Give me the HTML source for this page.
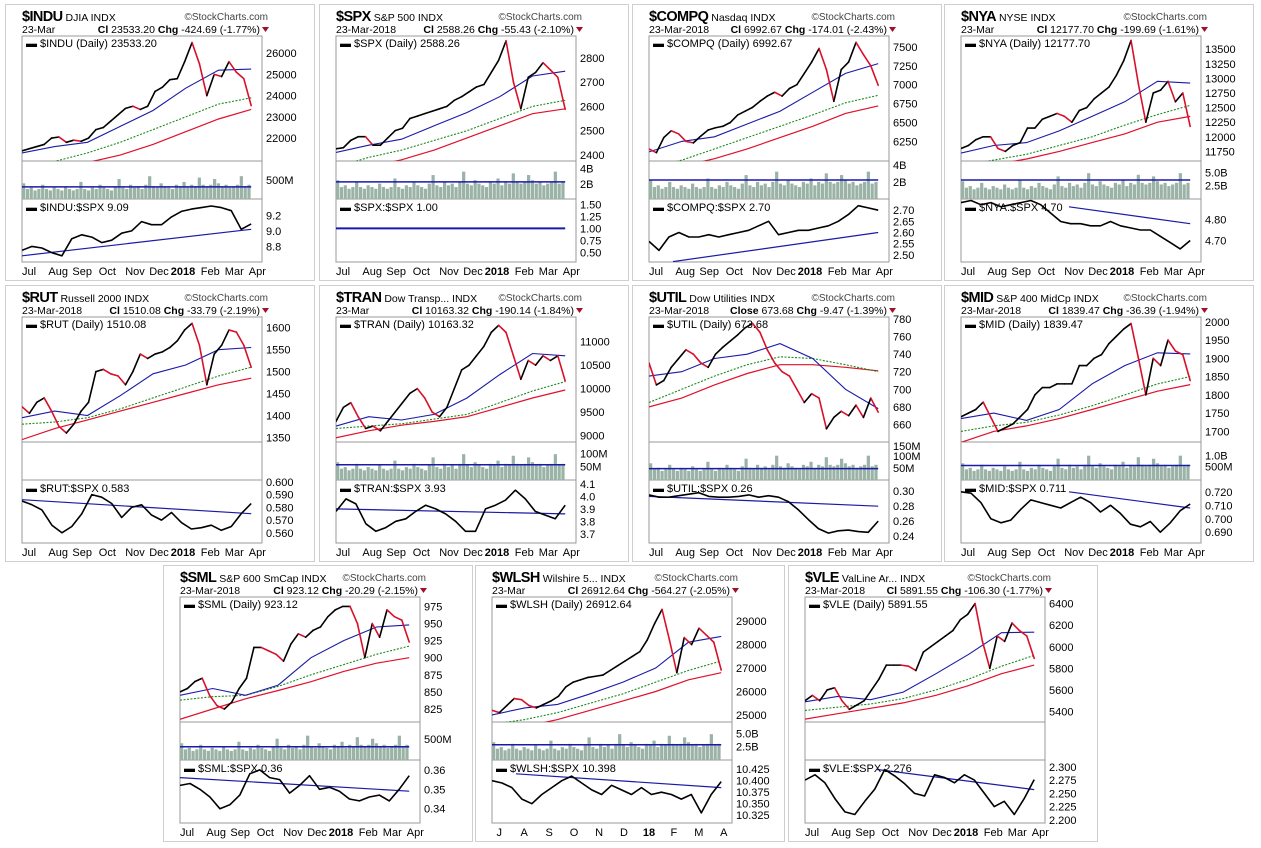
<!DOCTYPE html>
<html><head><meta charset="utf-8"><title>Index Chart Grid</title>
<style>
html,body{margin:0;padding:0;background:#fff;}
svg{display:block;font-family:"Liberation Sans",sans-serif;}
</style></head>
<body>
<svg id="root" width="1261" height="848" viewBox="0 0 1261 848"></svg>
<script>
// ---------- data ----------
const monthLabels = ["Jul","Aug","Sep","Oct","Nov","Dec","2018","Feb","Mar","Apr"];
const monthLabelsShort = ["J","A","S","O","N","D","18","F","M","A"];
const volumeShape = [0.55,0.35,0.4,0.3,0.35,0.5,0.35,0.3,0.4,0.35,0.3,0.45,0.35,0.3,0.35,0.6,0.35,0.3,0.4,0.35,0.5,0.4,0.35,0.3,0.45,0.7,0.4,0.35,0.5,0.4,0.45,0.35,0.5,0.8,0.45,0.4,0.55,0.45,0.4,0.35,0.5,0.45,0.6,0.4,0.5,0.45,0.75,0.5,0.45,0.5,0.7,0.55,0.45,0.5,0.4,0.45,0.5,0.8,0.45,0.5];

const induPrice=[21400,21500,21600,21700,22000,22050,21800,21900,21850,22000,22400,22500,22800,23100,23400,23500,23350,23500,24200,24400,24750,24800,25600,26500,25500,24000,25000,24900,25600,25100,24800,23530];
const induMa50=[21300,21600,21800,22550,23300,24350,25200,25250];
const induMa150=[20700,20900,21300,21800,22400,23000,23600,23900];
const induMa200=[20300,20550,20850,21200,21700,22300,22900,23350];
const induRatio=[8.75,8.8,8.78,8.72,8.68,8.9,8.95,8.92,8.85,8.88,8.97,9.0,9.12,9.08,9.08,9.18,9.25,9.28,9.3,9.32,9.3,9.26,9.02,9.09];
const induRatioMa=[8.68,9.02];
const induTicks=[22000,23000,24000,25000,26000];
const induRatioTicks=[8.8,9.0,9.2];

const spxPrice=[2425,2430,2460,2475,2475,2440,2440,2470,2500,2510,2550,2560,2570,2580,2590,2600,2625,2640,2660,2680,2690,2740,2790,2870,2700,2590,2720,2740,2780,2750,2720,2588];
const spxMa50=[2410,2440,2465,2520,2575,2640,2725,2745];
const spxMa150=[2350,2390,2420,2460,2500,2550,2600,2625];
const spxMa200=[2330,2350,2380,2420,2470,2520,2570,2590];
const spxRatio=[1,1,1,1,1,1,1,1,1,1,1,1,1,1,1,1,1,1,1,1,1,1,1,1];
const spxRatioMa=[1,1];
const spxTicks=[2400,2500,2600,2700,2800];
const spxRatioTicks=[0.5,0.75,1.0,1.25,1.5];

const compqPrice=[6150,6100,6300,6390,6350,6250,6230,6320,6400,6430,6450,6500,6600,6650,6700,6780,6850,6900,6850,6950,7000,7150,7300,7480,7200,6780,7200,7300,7560,7400,7250,6993];
const compqMa50=[6110,6250,6310,6480,6650,6900,7150,7280];
const compqMa150=[5900,6000,6150,6300,6450,6600,6760,6860];
const compqMa200=[5850,5920,6020,6150,6300,6450,6620,6720];
const compqRatio=[2.56,2.52,2.58,2.6,2.58,2.58,2.59,2.58,2.59,2.6,2.61,2.63,2.65,2.59,2.6,2.61,2.61,2.62,2.63,2.65,2.68,2.72,2.71,2.7];
const compqRatioMa=[2.47,2.6];
const compqTicks=[6250,6500,6750,7000,7250,7500];
const compqRatioTicks=[2.5,2.55,2.6,2.65,2.7];

const nyaPrice=[11800,11850,11950,12000,12000,11800,11750,11850,11900,12150,12150,12300,12350,12400,12350,12250,12450,12500,12650,12750,12850,13050,13300,13650,12900,12250,12750,12800,12950,12600,12750,12178];
const nyaMa50=[11720,11850,11900,12100,12350,12600,12950,12920];
const nyaMa150=[11500,11600,11700,11850,12000,12200,12380,12540];
const nyaMa200=[11450,11520,11620,11750,11900,12050,12250,12350];
const nyaRatio=[4.88,4.89,4.87,4.88,4.86,4.87,4.88,4.89,4.87,4.83,4.79,4.78,4.78,4.77,4.77,4.79,4.77,4.76,4.75,4.75,4.72,4.69,4.66,4.7];
const nyaRatioMa=[4.86,4.78];
const nyaTicks=[11750,12000,12250,12500,12750,13000,13250,13500];
const nyaRatioTicks=[4.7,4.8];

const rutPrice=[1420,1405,1430,1440,1410,1375,1360,1380,1410,1430,1500,1505,1495,1490,1470,1500,1540,1530,1540,1545,1555,1570,1595,1610,1560,1470,1540,1560,1595,1590,1560,1510];
const rutMa50=[1395,1410,1400,1445,1495,1515,1550,1555];
const rutMa150=[1380,1385,1395,1415,1440,1465,1490,1510];
const rutMa200=[1345,1370,1390,1410,1430,1450,1470,1485];
const rutRatio=[0.585,0.582,0.578,0.566,0.56,0.565,0.575,0.59,0.588,0.583,0.572,0.58,0.582,0.574,0.57,0.576,0.568,0.563,0.564,0.566,0.562,0.565,0.575,0.583];
const rutRatioMa=[0.586,0.575];
const rutTicks=[1350,1400,1450,1500,1550,1600];
const rutRatioTicks=[0.56,0.57,0.58,0.59,0.6];

const tranPrice=[9300,9600,9700,9400,9150,9200,9100,9300,9500,9700,9900,10000,9800,9500,9400,9600,10000,10400,10500,10700,10900,11200,11350,11200,10700,10200,10600,10500,10700,10600,10700,10163];
const tranMa50=[9200,9400,9330,9450,9800,10300,10750,10700];
const tranMa150=[9150,9200,9250,9350,9450,9700,9950,10150];
const tranMa200=[8950,9100,9220,9300,9400,9600,9800,9970];
const tranRatio=[3.88,3.98,3.94,3.78,3.72,3.75,3.8,3.82,3.88,3.93,3.9,3.86,3.8,3.72,3.72,3.9,3.93,3.97,4.05,3.98,3.88,3.85,3.82,3.93];
const tranRatioMa=[3.9,3.86];
const tranTicks=[9000,9500,10000,10500,11000];
const tranRatioTicks=[3.7,3.8,3.9,4.0,4.1];

const utilPrice=[730,705,710,725,735,745,740,730,725,740,748,755,762,770,775,765,745,730,720,715,700,685,695,690,655,668,675,670,682,668,690,674];
const utilMa50=[715,720,735,740,752,735,700,678];
const utilMa150=[685,700,715,728,737,735,728,720];
const utilMa200=[680,690,705,718,728,728,725,721];
const utilRatio=[0.295,0.292,0.292,0.294,0.296,0.298,0.293,0.292,0.292,0.293,0.295,0.292,0.294,0.292,0.286,0.275,0.262,0.25,0.244,0.247,0.248,0.246,0.245,0.26];
const utilRatioMa=[0.293,0.28];
const utilTicks=[660,680,700,720,740,760,780];
const utilRatioTicks=[0.24,0.26,0.28,0.3];

const midPrice=[1740,1750,1760,1780,1740,1700,1710,1720,1740,1760,1800,1820,1820,1830,1830,1830,1880,1880,1900,1910,1940,1960,1980,1995,1900,1800,1900,1880,1950,1920,1910,1839];
const midMa50=[1735,1750,1730,1760,1830,1880,1915,1912];
const midMa150=[1700,1715,1725,1745,1770,1800,1830,1850];
const midMa200=[1670,1700,1715,1735,1760,1785,1810,1828];
const midRatio=[0.72,0.719,0.712,0.7,0.697,0.699,0.707,0.714,0.712,0.71,0.708,0.712,0.716,0.712,0.705,0.71,0.704,0.696,0.694,0.698,0.69,0.697,0.706,0.711];
const midRatioMa=[0.72,0.708];
const midTicks=[1700,1750,1800,1850,1900,1950,2000];
const midRatioTicks=[0.69,0.7,0.71,0.72];

const smlPrice=[850,855,865,870,845,830,825,835,855,870,915,915,910,905,895,920,935,930,940,945,960,970,975,975,950,900,950,930,970,960,955,923];
const smlMa50=[845,855,845,860,900,925,945,948];
const smlMa150=[838,843,845,858,875,890,905,917];
const smlMa200=[810,825,840,852,865,880,892,900];
const smlRatio=[0.352,0.353,0.35,0.346,0.34,0.342,0.347,0.358,0.36,0.356,0.355,0.348,0.352,0.357,0.35,0.351,0.349,0.345,0.344,0.346,0.347,0.344,0.35,0.357];
const smlRatioMa=[0.356,0.349];
const smlTicks=[825,850,875,900,925,950,975];
const smlRatioTicks=[0.34,0.35,0.36];

const wlshPrice=[25200,25100,25400,25700,25650,25400,25300,25450,25600,25800,26200,26400,26500,26600,26650,26700,26900,27100,27300,27500,27700,28200,28900,29500,28200,26800,28300,28000,28700,28400,28100,26913];
const wlshMa50=[25000,25300,25450,25900,26400,27000,28100,28350];
const wlshMa150=[24600,24800,25100,25500,25900,26400,26900,27300];
const wlshMa200=[24300,24500,24800,25200,25600,26000,26500,26800];
const wlshRatio=[10.4,10.395,10.385,10.36,10.35,10.37,10.385,10.4,10.41,10.395,10.38,10.37,10.39,10.38,10.37,10.385,10.37,10.375,10.37,10.36,10.37,10.33,10.37,10.398];
const wlshRatioMa=[10.415,10.385];
const wlshTicks=[25000,26000,27000,28000,29000];
const wlshRatioTicks=[10.325,10.35,10.375,10.4,10.425];

const vlePrice=[5500,5550,5500,5600,5620,5500,5420,5460,5500,5600,5700,5830,5830,5830,5820,5780,5950,6000,6050,6100,6150,6250,6300,6400,6050,5800,6100,6050,6220,6150,6100,5892];
const vleMa50=[5490,5540,5510,5580,5750,5930,6130,6135];
const vleMa150=[5410,5440,5470,5520,5600,5700,5820,5920];
const vleMa200=[5330,5380,5430,5480,5550,5640,5750,5830];
const vleRatio=[2.275,2.285,2.27,2.24,2.215,2.21,2.235,2.258,2.295,2.283,2.268,2.25,2.245,2.285,2.28,2.27,2.285,2.275,2.25,2.225,2.235,2.21,2.24,2.276];
const vleRatioMa=[2.295,2.257];
const vleTicks=[5400,5600,5800,6000,6200,6400];
const vleRatioTicks=[2.2,2.225,2.25,2.275,2.3];

// ---------- configs ----------
const charts=[
 {id:"indu",sym:"$INDU",desc:"DJIA  INDX",date:"23-Mar",clLabel:"Cl",cl:"23533.20",chg:"-424.69 (-1.77%)",L:6,T:4,price:induPrice,ma50:induMa50,ma150:induMa150,ma200:induMa200,ymin:20920,ymax:26810,ticks:induTicks,tickFmt:0,ratio:induRatio,rma:induRatioMa,rmin:8.6,rmax:9.41,rticks:induRatioTicks,rfmt:1,rlabel:"$INDU:$SPX 9.09",vol:true,volMa:0.32,volScale:0.75,volLabels:[["500M",0.5]],rmaStart:0},
 {id:"spx",sym:"$SPX",desc:"S&P 500  INDX",date:"23-Mar-2018",clLabel:"Cl",cl:"2588.26",chg:"-55.43 (-2.10%)",L:320,T:4,price:spxPrice,ma50:spxMa50,ma150:spxMa150,ma200:spxMa200,ymin:2375,ymax:2890,ticks:spxTicks,tickFmt:0,ratio:spxRatio,rma:spxRatioMa,rmin:0.3,rmax:1.613,rticks:spxRatioTicks,rfmt:2,rlabel:"$SPX:$SPX 1.00",vol:true,volMa:0.45,volScale:0.9,volLabels:[["4B",0.2],["2B",0.6]],rmaStart:0,hideRatioLine:true},
 {id:"compq",sym:"$COMPQ",desc:"Nasdaq  INDX",date:"23-Mar-2018",clLabel:"Cl",cl:"6992.67",chg:"-174.01 (-2.43%)",L:633,T:4,price:compqPrice,ma50:compqMa50,ma150:compqMa150,ma200:compqMa200,ymin:5990,ymax:7645,ticks:compqTicks,tickFmt:0,ratio:compqRatio,rma:compqRatioMa,rmin:2.468,rmax:2.75,rticks:compqRatioTicks,rfmt:2,rlabel:"$COMPQ:$SPX 2.70",vol:true,volMa:0.5,volScale:0.9,volLabels:[["4B",0.1],["2B",0.55]],rmaStart:0.1},
 {id:"nya",sym:"$NYA",desc:"NYSE  INDX",date:"23-Mar",clLabel:"Cl",cl:"12177.70",chg:"-199.69 (-1.61%)",L:945,T:4,price:nyaPrice,ma50:nyaMa50,ma150:nyaMa150,ma200:nyaMa200,ymin:11585,ymax:13727,ticks:nyaTicks,tickFmt:0,ratio:nyaRatio,rma:nyaRatioMa,rmin:4.598,rmax:4.897,rticks:nyaRatioTicks,rfmt:2,rlabel:"$NYA:$SPX 4.70",vol:true,volMa:0.5,volScale:0.85,volLabels:[["5.0B",0.3],["2.5B",0.65]],rmaStart:0.45},
 {id:"rut",sym:"$RUT",desc:"Russell 2000  INDX",date:"23-Mar-2018",clLabel:"Cl",cl:"1510.08",chg:"-33.79 (-2.19%)",L:6,T:285,price:rutPrice,ma50:rutMa50,ma150:rutMa150,ma200:rutMa200,ymin:1339.5,ymax:1624.5,ticks:rutTicks,tickFmt:0,ratio:rutRatio,rma:rutRatioMa,rmin:0.552,rmax:0.6015,rticks:rutRatioTicks,rfmt:3,rlabel:"$RUT:$SPX 0.583",vol:false,volLabels:[],rmaStart:0},
 {id:"tran",sym:"$TRAN",desc:"Dow Transp...  INDX",date:"23-Mar",clLabel:"Cl",cl:"10163.32",chg:"-190.14 (-1.84%)",L:320,T:285,price:tranPrice,ma50:tranMa50,ma150:tranMa150,ma200:tranMa200,ymin:8861,ymax:11528,ticks:tranTicks,tickFmt:0,ratio:tranRatio,rma:tranRatioMa,rmin:3.626,rmax:4.132,rticks:tranRatioTicks,rfmt:1,rlabel:"$TRAN:$SPX 3.93",vol:true,volMa:0.4,volScale:0.85,volLabels:[["100M",0.3],["50M",0.65]],rmaStart:0},
 {id:"util",sym:"$UTIL",desc:"Dow Utilities  INDX",date:"23-Mar-2018",clLabel:"Close",cl:"673.68",chg:"-9.47 (-1.39%)",L:633,T:285,price:utilPrice,ma50:utilMa50,ma150:utilMa150,ma200:utilMa200,ymin:640,ymax:782.3,ticks:utilTicks,tickFmt:0,ratio:utilRatio,rma:utilRatioMa,rmin:0.2307,rmax:0.315,rticks:utilRatioTicks,rfmt:2,rlabel:"$UTIL:$SPX 0.26",vol:true,volMa:0.3,volScale:0.8,volLabels:[["150M",0.1],["100M",0.37],["50M",0.68]],rmaStart:0},
 {id:"mid",sym:"$MID",desc:"S&P 400 MidCp  INDX",date:"23-Mar-2018",clLabel:"Cl",cl:"1839.47",chg:"-36.39 (-1.94%)",L:945,T:285,price:midPrice,ma50:midMa50,ma150:midMa150,ma200:midMa200,ymin:1671,ymax:2013,ticks:midTicks,tickFmt:0,ratio:midRatio,rma:midRatioMa,rmin:0.682,rmax:0.7288,rticks:midRatioTicks,rfmt:3,rlabel:"$MID:$SPX 0.711",vol:true,volMa:0.38,volScale:0.8,volLabels:[["1.0B",0.35],["500M",0.65]],rmaStart:0.45},
 {id:"sml",sym:"$SML",desc:"S&P 600 SmCap  INDX",date:"23-Mar-2018",clLabel:"Cl",cl:"923.12",chg:"-20.29 (-2.15%)",L:164,T:565,price:smlPrice,ma50:smlMa50,ma150:smlMa150,ma200:smlMa200,ymin:806,ymax:988.8,ticks:smlTicks,tickFmt:0,ratio:smlRatio,rma:smlRatioMa,rmin:0.3326,rmax:0.3651,rticks:smlRatioTicks,rfmt:2,rlabel:"$SML:$SPX 0.36",vol:true,volMa:0.35,volScale:0.8,volLabels:[["500M",0.45]],rmaStart:0},
 {id:"wlsh",sym:"$WLSH",desc:"Wilshire 5...  INDX",date:"23-Mar",clLabel:"Cl",cl:"26912.64",chg:"-564.27 (-2.05%)",L:476,T:565,price:wlshPrice,ma50:wlshMa50,ma150:wlshMa150,ma200:wlshMa200,ymin:24699,ymax:30029,ticks:wlshTicks,tickFmt:0,ratio:wlshRatio,rma:wlshRatioMa,rmin:10.308,rmax:10.445,rticks:wlshRatioTicks,rfmt:3,rlabel:"$WLSH:$SPX 10.398",vol:true,volMa:0.4,volScale:0.85,volLabels:[["5.0B",0.3],["2.5B",0.65]],rmaStart:0.1,shortMonths:true},
 {id:"vle",sym:"$VLE",desc:"ValLine Ar...  INDX",date:"23-Mar-2018",clLabel:"Cl",cl:"5891.55",chg:"-106.30 (-1.77%)",L:789,T:565,price:vlePrice,ma50:vleMa50,ma150:vleMa150,ma200:vleMa200,ymin:5303,ymax:6461,ticks:vleTicks,tickFmt:0,ratio:vleRatio,rma:vleRatioMa,rmin:2.194,rmax:2.313,rticks:vleRatioTicks,rfmt:3,rlabel:"$VLE:$SPX 2.276",vol:false,volLabels:[],rmaStart:0.3}
];

// ---------- rendering ----------
const NS="http://www.w3.org/2000/svg";
const root=document.getElementById('root');
const monthPos=[0,0.11,0.21,0.32,0.43,0.53,0.62,0.745,0.845,0.945];
function mk(tag,attrs,parent,text){
  const e=document.createElementNS(NS,tag);
  for(const k in attrs) e.setAttribute(k,attrs[k]);
  if(text!==undefined) e.textContent=text;
  (parent||root).appendChild(e);
  return e;
}
function seriesPath(arr,xs,ys,start,end){
  let d="";
  const n=arr.length;
  for(let i=0;i<n;i++){
    const f=start+(end-start)*i/(n-1);
    d+=(i?"L":"M")+xs(f).toFixed(1)+","+ys(arr[i]).toFixed(1);
  }
  return d;
}
const END=0.955;

charts.forEach(c=>{
  const L=c.L,T=c.T;
  const g=mk('g',{});
  
  
  mk('rect',{x:L-0.5,y:T+0.5,width:309,height:276,fill:'#fff',stroke:'#cfcfcf','stroke-width':1},g);

  const title=mk('text',{x:L+16,y:T+17,'font-size':14.5,'font-weight':'bold',fill:'#000'},g);
  
  
  mk('tspan',{'letter-spacing':'-0.6'},title,c.sym);
  mk('tspan',{'font-size':10.5,'font-weight':'normal',dx:3},title,c.desc);
  const brand=mk('text',{x:L+262,y:T+16,'font-size':10,fill:'#444','text-anchor':'end'},g,'\u00A9StockCharts.com');
  
  
  const dt=mk('text',{x:L+16,y:T+29,'font-size':10.5,fill:'#000'},g,c.date);
  
  
  const info=mk('text',{x:L+254,y:T+29,'font-size':10.5,fill:'#000','text-anchor':'end'},g);
  
  
  mk('tspan',{'font-weight':'bold'},info,c.clLabel+' ');
  mk('tspan',{},info,c.cl+'  ');
  mk('tspan',{'font-weight':'bold'},info,'Chg ');
  mk('tspan',{},info,c.chg);
  const tri=mk('path',{d:`M${L+256},${T+23}h7l-3.5,5z`,fill:'#a0102a'},g);
  
  

  const x0=L+16,w=240,x1=x0+w;
  const py0=T+32,py1=T+157,vy1=T+195,ry1=T+258;
  const xs=f=>x0+f*w;
  const ys=v=>py1-(v-c.ymin)/(c.ymax-c.ymin)*(py1-py0);
  const rs=v=>ry1-(v-c.rmin)/(c.rmax-c.rmin)*(ry1-vy1);

  const box=mk('rect',{x:x0,y:py0,width:w,height:ry1-py0,fill:'none',stroke:'#999','stroke-width':1},g);
  
  
  mk('line',{x1:x0,x2:x1,y1:py1,y2:py1,stroke:'#999'},g);
  mk('line',{x1:x0,x2:x1,y1:vy1,y2:vy1,stroke:'#999'},g);

  const cid='clip-'+c.id;
  const cp=mk('clipPath',{id:cid},g);
  mk('rect',{x:x0,y:py0,width:w,height:py1-py0},cp);
  const rcid='rclip-'+c.id;
  const rcp=mk('clipPath',{id:rcid},g);
  mk('rect',{x:x0,y:vy1,width:w,height:ry1-vy1},rcp);

  c.ticks.forEach(t=>{
    const y=ys(t);
    const tl=mk('text',{x:x1+4,y:y+4,'font-size':11,fill:'#000'},g,t.toFixed(c.tickFmt));
    
    
  });

  const pg=mk('g',{'clip-path':`url(#${cid})`},g);
  const m200=mk('path',{d:seriesPath(c.ma200,xs,ys,0,END),fill:'none',stroke:'#e0102a','stroke-width':1.2},pg);
  
  
  const m150=mk('path',{d:seriesPath(c.ma150,xs,ys,0,END),fill:'none',stroke:'#1a8a1a','stroke-width':1.1,'stroke-dasharray':'2,1.5'},pg);
  
  
  const m50=mk('path',{d:seriesPath(c.ma50,xs,ys,0,END),fill:'none',stroke:'#1a1aa8','stroke-width':1.1},pg);
  
  
  const n=c.price.length;
  for(let i=1;i<n;i++){
    const fa=END*(i-1)/(n-1),fb=END*i/(n-1);
    const seg=mk('line',{x1:xs(fa),y1:ys(c.price[i-1]),x2:xs(fb),y2:ys(c.price[i]),stroke:c.price[i]<c.price[i-1]?'#d8102a':'#000','stroke-width':1.6,'stroke-linecap':'round'},pg);
    
    
  }
  const lg=mk('text',{x:x0+4,y:py0+11,'font-size':11,fill:'#000'},g,'\u25AC '+c.sym+' (Daily) '+c.cl);
  
  

  if(c.vol){
    const vh=vy1-py1;
    const nv=volumeShape.length;
    const bw=w*END/nv;
    volumeShape.forEach((v,i)=>{
      const h=v*c.volScale*vh;
      const b=mk('rect',{x:x0+i*bw,y:vy1-h,width:Math.max(bw-0.6,1),height:h,fill:'#9bb3a6'},g);
      
      
    });
    const vl=mk('line',{x1:x0,x2:xs(END),y1:vy1-c.volMa*vh,y2:vy1-c.volMa*vh,stroke:'#1a1aa8','stroke-width':1.5},g);
    
    
  }
  c.volLabels.forEach(v=>{
    const t=mk('text',{x:x1+4,y:py1+v[1]*(vy1-py1)+4,'font-size':11,fill:'#000'},g,v[0]);
    
    
  });

  c.rticks.forEach(t=>{
    const tl=mk('text',{x:x1+4,y:rs(t)+4,'font-size':11,fill:'#000'},g,t.toFixed(c.rfmt));
    
    
  });
  const rg=mk('g',{'clip-path':`url(#${rcid})`},g);
  const rm=mk('path',{d:seriesPath(c.rma,xs,rs,c.rmaStart,END),fill:'none',stroke:'#1a1aa8','stroke-width':c.hideRatioLine?2:1.2},rg);
  
  
  if(!c.hideRatioLine){
    const rl=mk('path',{d:seriesPath(c.ratio,xs,rs,0,END),fill:'none',stroke:'#000','stroke-width':1.6,'stroke-linejoin':'round'},rg);
    
    
  }
  const rlg=mk('text',{x:x0+4,y:vy1+12,'font-size':11,fill:'#000'},g,'\u25AC '+c.rlabel);
  
  

  const labels=c.shortMonths?monthLabelsShort:monthLabels;
  labels.forEach((m,k)=>{
    const f=c.shortMonths?0.03+k*0.104:monthPos[k];
    const t=mk('text',{x:xs(f),y:T+271,'font-size':11,fill:'#000','text-anchor':c.shortMonths?'middle':'start','font-weight':(m==='2018'||m==='18')?'bold':'normal'},g,m);
    
    
  });
});
</script>
</body></html>
